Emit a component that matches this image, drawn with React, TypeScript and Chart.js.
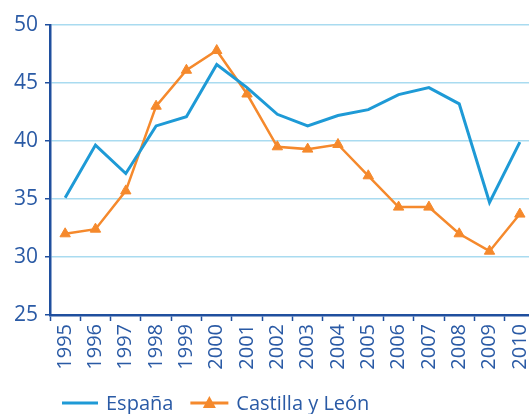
import React, { useEffect, useRef } from "react";
import { Chart, registerables } from "chart.js";
Chart.register(...registerables);

const years = ["1995","1996","1997","1998","1999","2000","2001","2002","2003","2004","2005","2006","2007","2008","2009","2010"];
const espana = [35.1, 39.65, 37.2, 41.3, 42.1, 46.6, 44.6, 42.3, 41.3, 42.2, 42.7, 44.0, 44.6, 43.2, 34.7, 39.9];
const castilla = [32.0, 32.4, 35.7, 43.0, 46.1, 47.8, 44.05, 39.5, 39.3, 39.7, 37.0, 34.3, 34.3, 32.0, 30.5, 33.7];
const yTicks = [25, 30, 35, 40, 45, 50];
const seriesNames = ["España", "Castilla y León"];

const BLUE = "#1e9ad6";
const ORANGE = "#f5892c";
const AXIS = "#1f4f9e";
const TEXT = "#2a5aa5";
const GRID = "#a9dbf0";
const FONT = "Open Sans";

const legendPlugin = {
  id: "customLegend",
  afterDraw(chart: any) {
    const ctx = chart.ctx;
    const y = 403;
    let x = 62;
    ctx.save();
    ctx.font = `20px "${FONT}"`;
    ctx.textBaseline = "middle";
    ctx.fillStyle = TEXT;
    const colors = [BLUE, ORANGE];
    seriesNames.forEach((name, i) => {
      const iw = i === 0 ? 36 : 38;
      ctx.strokeStyle = colors[i];
      ctx.lineWidth = 3;
      ctx.beginPath();
      ctx.moveTo(x, y);
      ctx.lineTo(x + iw, y);
      ctx.stroke();
      if (i === 1) {
        const cx = x + iw / 2;
        ctx.fillStyle = colors[i];
        ctx.beginPath();
        ctx.moveTo(cx, y - 7);
        ctx.lineTo(cx + 6.5, y + 5);
        ctx.lineTo(cx - 6.5, y + 5);
        ctx.closePath();
        ctx.fill();
      }
      x += iw + 8;
      ctx.fillStyle = TEXT;
      ctx.fillText(name, x, y + 1);
      x += ctx.measureText(name).width + 17;
    });
    ctx.restore();
  },
};

export default function App() {
  const ref = useRef<HTMLCanvasElement>(null);
  useEffect(() => {
    document.body.style.margin = "0";
    const chart = new Chart(ref.current!, {
      type: "line",
      data: {
        labels: years,
        datasets: [
          {
            label: seriesNames[0],
            data: espana,
            borderColor: BLUE,
            backgroundColor: BLUE,
            borderWidth: 3,
            pointRadius: 0,
            tension: 0,
          },
          {
            label: seriesNames[1],
            data: castilla,
            borderColor: ORANGE,
            backgroundColor: ORANGE,
            borderWidth: 2.5,
            pointStyle: "triangle",
            pointRadius: 6,
            pointBorderWidth: 1,
            tension: 0,
          },
        ],
      },
      options: {
        animation: false,
        responsive: false,
        layout: { padding: { left: 0, right: 0, top: 25, bottom: 40 } },
        plugins: {
          tooltip: { enabled: false },
          legend: { display: false },
        },
        scales: {
          x: {
            offset: true,
            afterFit: (s: any) => {
              s.height = 59;
              s.paddingLeft = 0;
              s.paddingRight = 0;
            },
            grid: {
              display: true,
              drawOnChartArea: false,
              drawTicks: true,
              tickLength: 6,
              tickColor: AXIS,
              tickWidth: 1.5,
              offset: true,
            },
            border: { color: AXIS, width: 2.5 },
            ticks: {
              color: TEXT,
              font: { family: FONT, size: 20 },
              minRotation: 90,
              maxRotation: 90,
              autoSkip: false,
              padding: 3,
            },
          },
          y: {
            min: 25,
            max: 50,
            afterFit: (s: any) => {
              s.width = 50;
            },
            afterBuildTicks: (s: any) => {
              s.ticks = yTicks.map((v) => ({ value: v }));
            },
            grid: {
              color: GRID,
              lineWidth: 1.5,
              drawTicks: true,
              tickLength: 5,
              tickColor: AXIS,
            },
            border: { color: AXIS, width: 2.5 },
            ticks: {
              color: TEXT,
              font: { family: FONT, size: 21 },
              padding: 7,
            },
          },
        },
      },
      plugins: [legendPlugin],
    } as any);
    return () => chart.destroy();
  }, []);
  return (
    <div style={{ width: 529, height: 414, overflow: "hidden" }}>
      <canvas ref={ref} width={542} height={414} style={{ display: "block" }} />
    </div>
  );
}
